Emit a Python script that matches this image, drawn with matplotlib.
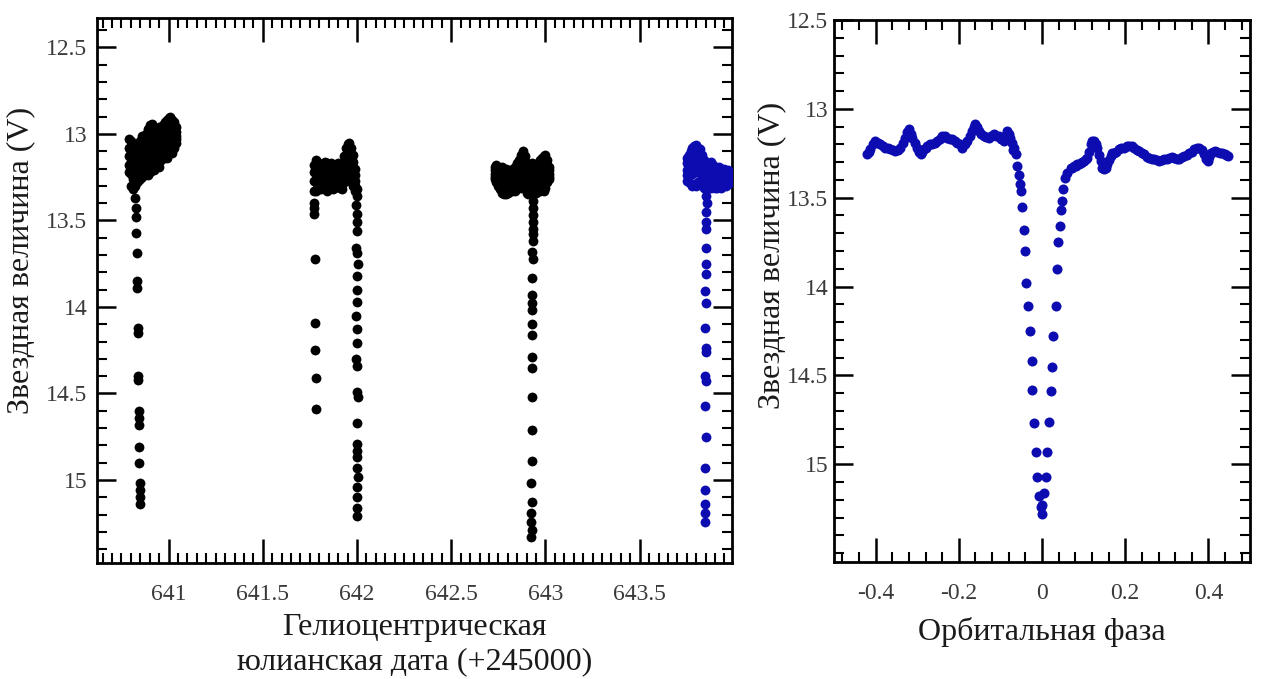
import matplotlib
matplotlib.use("Agg")
import matplotlib.pyplot as plt
from matplotlib.ticker import MultipleLocator, FuncFormatter

# ---------------- data: left panel (HJD - 2450000 offset as shown, V mag) ----------------
g1_band_x = [640.79, 640.80, 640.81, 640.82, 640.83, 640.84, 640.85, 640.86, 640.87, 640.88, 640.89, 640.90, 640.91,
             640.92, 640.93, 640.94, 640.95, 640.96, 640.97, 640.98, 640.99, 641.00, 641.01, 641.02, 641.03, 641.04]
g1_band_top = [13.03, 13.04, 13.08, 13.10, 13.09, 13.06, 13.04, 13.01, 13.03, 13.00, 12.97, 12.95, 12.94,
               12.97, 12.99, 12.98, 12.96, 12.99, 12.95, 12.93, 12.92, 12.91, 12.90, 12.92, 12.93, 12.96]
g1_band_r2 = [13.08, 13.10, 13.14, 13.15, 13.14, 13.11, 13.09, 13.07, 13.08, 13.05, 13.03, 13.01, 13.00,
              13.03, 13.04, 13.03, 13.01, 13.03, 13.00, 12.98, 12.97, 12.96, 12.95, 12.97, 12.97, 12.99]
g1_band_r3 = [13.13, 13.16, 13.20, 13.21, 13.19, 13.17, 13.15, 13.13, 13.14, 13.11, 13.10, 13.08, 13.07,
              13.09, 13.08, 13.07, 13.08, 13.06, 13.04, 13.02, 13.03, 13.00, 12.99, 13.01, 13.00, 13.01]
g1_band_r4 = [13.18, 13.23, 13.26, 13.26, 13.24, 13.22, 13.21, 13.19, 13.19, 13.17, 13.17, 13.15, 13.14,
              13.15, 13.13, 13.12, 13.14, 13.11, 13.09, 13.07, 13.09, 13.05, 13.04, 13.06, 13.04, 13.03]
g1_band_bot = [13.22, 13.30, 13.32, 13.30, 13.28, 13.27, 13.26, 13.25, 13.24, 13.22, 13.24, 13.22, 13.20,
               13.21, 13.18, 13.16, 13.19, 13.15, 13.13, 13.12, 13.14, 13.10, 13.09, 13.11, 13.08, 13.05]
g1_ecl_x = [640.823, 640.825, 640.826, 640.828, 640.830, 640.832, 640.834, 640.836, 640.838, 640.838,
            640.840, 640.842, 640.843, 640.844, 640.844, 640.845, 640.846, 640.846, 640.847, 640.846]
g1_ecl_m = [13.37, 13.43, 13.48, 13.57, 13.69, 13.85, 13.89, 14.12, 14.15, 14.40,
            14.42, 14.60, 14.64, 14.68, 14.81, 14.90, 15.02, 15.06, 15.10, 15.14]

g2_band_x = [641.77, 641.78, 641.79, 641.80, 641.81, 641.82, 641.83, 641.84, 641.85, 641.86, 641.87, 641.88,
             641.89, 641.90, 641.91, 641.92, 641.93, 641.94, 641.95, 641.96, 641.97, 641.98, 641.99]
g2_band_top = [13.18, 13.15, 13.16, 13.17, 13.19, 13.18, 13.16, 13.17, 13.19, 13.17, 13.20, 13.21,
               13.18, 13.17, 13.19, 13.18, 13.13, 13.08, 13.06, 13.05, 13.08, 13.12, 13.20]
g2_band_r2 = [13.22, 13.19, 13.20, 13.21, 13.22, 13.21, 13.20, 13.21, 13.22, 13.21, 13.23, 13.24,
              13.21, 13.21, 13.22, 13.21, 13.17, 13.12, 13.10, 13.09, 13.12, 13.16, 13.24]
g2_band_r3 = [13.27, 13.23, 13.24, 13.25, 13.25, 13.25, 13.23, 13.25, 13.26, 13.24, 13.26, 13.27,
              13.25, 13.24, 13.26, 13.25, 13.21, 13.17, 13.15, 13.14, 13.17, 13.21, 13.27]
g2_band_r4 = [13.33, 13.27, 13.27, 13.28, 13.29, 13.28, 13.27, 13.29, 13.29, 13.27, 13.29, 13.29,
              13.28, 13.27, 13.29, 13.29, 13.25, 13.22, 13.21, 13.19, 13.22, 13.26, 13.30]
g2_band_bot = [13.40, 13.33, 13.31, 13.30, 13.32, 13.31, 13.30, 13.33, 13.31, 13.30, 13.32, 13.31,
               13.30, 13.29, 13.31, 13.32, 13.28, 13.27, 13.26, 13.24, 13.27, 13.30, 13.33]
g2_in_x = [641.772, 641.774, 641.778, 641.778, 641.779, 641.780, 641.780]
g2_in_m = [13.43, 13.46, 13.72, 14.09, 14.25, 14.41, 14.59]
g2_ecl_x = [641.998, 642.000, 641.997, 642.001, 641.999, 642.002, 641.996, 642.000, 642.003, 641.998,
            642.001, 641.999, 641.997, 642.002, 642.000, 641.996, 642.001, 641.998, 642.003, 641.999,
            642.001, 642.002, 641.998, 642.000, 642.003, 642.001, 641.999, 642.002, 642.000]
g2_ecl_m = [13.32, 13.36, 13.41, 13.46, 13.51, 13.56, 13.66, 13.69, 13.75, 13.82,
            13.90, 13.97, 14.05, 14.13, 14.21, 14.30, 14.34, 14.49, 14.52, 14.67,
            14.79, 14.83, 14.87, 14.93, 14.98, 15.04, 15.10, 15.16, 15.21]

g3_band_x = [642.73, 642.74, 642.75, 642.76, 642.77, 642.78, 642.79, 642.80, 642.81, 642.82,
             642.83, 642.84, 642.85, 642.86, 642.87, 642.88, 642.89, 642.90, 642.91, 642.92,
             642.93, 642.94, 642.95, 642.96, 642.97, 642.98, 642.99, 643.00, 643.01, 643.02]
g3_band_top = [13.19, 13.18, 13.19, 13.20, 13.19, 13.21, 13.20, 13.22, 13.21, 13.22,
               13.20, 13.19, 13.17, 13.15, 13.12, 13.10, 13.13, 13.17, 13.20, 13.19,
               13.17, 13.18, 13.19, 13.17, 13.15, 13.14, 13.13, 13.12, 13.15, 13.19]
g3_band_r2 = [13.21, 13.21, 13.22, 13.23, 13.23, 13.24, 13.23, 13.25, 13.24, 13.25,
              13.23, 13.22, 13.21, 13.19, 13.16, 13.14, 13.17, 13.21, 13.23, 13.22,
              13.21, 13.21, 13.22, 13.21, 13.19, 13.18, 13.17, 13.16, 13.18, 13.21]
g3_band_r3 = [13.23, 13.24, 13.25, 13.26, 13.27, 13.28, 13.27, 13.28, 13.27, 13.28,
              13.26, 13.26, 13.24, 13.22, 13.21, 13.20, 13.22, 13.25, 13.28, 13.27,
              13.26, 13.25, 13.26, 13.25, 13.24, 13.23, 13.23, 13.22, 13.22, 13.23]
g3_band_r4 = [13.25, 13.26, 13.28, 13.29, 13.31, 13.32, 13.31, 13.31, 13.30, 13.31,
              13.29, 13.30, 13.28, 13.26, 13.26, 13.25, 13.27, 13.30, 13.32, 13.31,
              13.30, 13.29, 13.30, 13.29, 13.29, 13.28, 13.28, 13.27, 13.25, 13.25]
g3_band_bot = [13.26, 13.28, 13.30, 13.32, 13.34, 13.35, 13.35, 13.34, 13.33, 13.33,
               13.32, 13.33, 13.31, 13.30, 13.31, 13.30, 13.31, 13.34, 13.35, 13.34,
               13.34, 13.33, 13.34, 13.33, 13.33, 13.32, 13.33, 13.31, 13.28, 13.26]
g3_ecl_x = [642.935, 642.934, 642.935, 642.933, 642.934, 642.932, 642.933, 642.931, 642.932, 642.930,
            642.929, 642.931, 642.930, 642.928, 642.929, 642.927, 642.928, 642.926, 642.927, 642.926,
            642.925, 642.926, 642.924, 642.925, 642.926, 642.925]
g3_ecl_m = [13.39, 13.43, 13.47, 13.51, 13.55, 13.58, 13.62, 13.68, 13.72, 13.83,
            13.93, 13.98, 14.02, 14.10, 14.16, 14.29, 14.35, 14.52, 14.71, 14.89,
            15.02, 15.13, 15.19, 15.24, 15.29, 15.33]

g4_band_x = [643.75, 643.76, 643.77, 643.78, 643.79, 643.80, 643.81, 643.82, 643.83, 643.84, 643.85, 643.86,
             643.87, 643.88, 643.89, 643.90, 643.91, 643.92, 643.93, 643.94, 643.95, 643.96, 643.97, 643.98]
g4_band_top = [13.14, 13.12, 13.10, 13.08, 13.07, 13.065, 13.08, 13.09, 13.12, 13.15, 13.17, 13.18,
               13.17, 13.16, 13.18, 13.19, 13.20, 13.19, 13.20, 13.21, 13.20, 13.22, 13.21, 13.22]
g4_band_r2 = [13.17, 13.15, 13.13, 13.12, 13.11, 13.10, 13.11, 13.13, 13.16, 13.18, 13.20, 13.21,
              13.21, 13.20, 13.21, 13.22, 13.23, 13.22, 13.23, 13.23, 13.22, 13.24, 13.23, 13.24]
g4_band_r3 = [13.21, 13.20, 13.18, 13.17, 13.16, 13.15, 13.16, 13.18, 13.20, 13.22, 13.24, 13.25,
              13.24, 13.23, 13.24, 13.25, 13.26, 13.25, 13.26, 13.25, 13.24, 13.26, 13.25, 13.25]
g4_band_r4 = [13.24, 13.24, 13.23, 13.23, 13.22, 13.22, 13.22, 13.22, 13.24, 13.26, 13.27, 13.28,
              13.27, 13.27, 13.27, 13.28, 13.28, 13.28, 13.28, 13.28, 13.27, 13.28, 13.27, 13.27]
g4_band_bot = [13.27, 13.28, 13.29, 13.30, 13.29, 13.30, 13.28, 13.27, 13.29, 13.31, 13.30, 13.31,
               13.30, 13.31, 13.30, 13.31, 13.31, 13.30, 13.31, 13.30, 13.29, 13.30, 13.29, 13.28]
g4_ecl_x = [643.855, 643.853, 643.856, 643.852, 643.854, 643.851, 643.853, 643.850, 643.852, 643.848,
            643.851, 643.849, 643.850, 643.852, 643.848, 643.851, 643.849, 643.850, 643.848, 643.849,
            643.847, 643.849, 643.848]
g4_ecl_m = [13.32, 13.36, 13.40, 13.45, 13.51, 13.55, 13.66, 13.75, 13.81, 13.91,
            13.98, 14.12, 14.24, 14.26, 14.40, 14.43, 14.57, 14.75, 14.93, 15.06,
            15.14, 15.19, 15.24]

# ---------------- data: right panel (orbital phase, V mag) ----------------
ph_pre_x = [-0.421, -0.417, -0.413, -0.407, -0.401, -0.395, -0.389, -0.383, -0.377, -0.371, -0.365, -0.359,
            -0.353, -0.347, -0.341, -0.335, -0.329, -0.324, -0.320, -0.316, -0.312, -0.306, -0.300, -0.296,
            -0.292, -0.288, -0.284, -0.280, -0.276, -0.270, -0.264, -0.258, -0.252, -0.246, -0.240, -0.234,
            -0.228, -0.222, -0.216, -0.210, -0.204, -0.198, -0.192, -0.186, -0.180, -0.174, -0.168, -0.164,
            -0.160, -0.156, -0.152, -0.146, -0.140, -0.134, -0.128, -0.122, -0.116, -0.110, -0.104, -0.098,
            -0.092, -0.088, -0.084, -0.080, -0.076, -0.072, -0.070, -0.067]
ph_pre_m = [13.255, 13.24, 13.227, 13.20, 13.180, 13.19, 13.199, 13.21, 13.218, 13.22, 13.227, 13.23,
            13.237, 13.23, 13.218, 13.19, 13.162, 13.13, 13.114, 13.14, 13.162, 13.19, 13.218, 13.24,
            13.255, 13.24, 13.227, 13.22, 13.208, 13.20, 13.199, 13.19, 13.180, 13.17, 13.152, 13.15,
            13.162, 13.17, 13.171, 13.18, 13.190, 13.20, 13.218, 13.20, 13.180, 13.15, 13.124, 13.10,
            13.086, 13.10, 13.124, 13.14, 13.152, 13.16, 13.162, 13.15, 13.143, 13.15, 13.152, 13.17,
            13.180, 13.15, 13.124, 13.14, 13.162, 13.19, 13.23, 13.218]
ph_in_x = [-0.0634, -0.0595, -0.0554, -0.0530, -0.0513, -0.0489, -0.0434, -0.0417, -0.0378, -0.0337,
           -0.0296, -0.0248, -0.0234, -0.0193, -0.0152, -0.0128, -0.0072, -0.0031, -0.0007]
ph_in_m = [13.254, 13.32, 13.37, 13.42, 13.46, 13.55, 13.68, 13.80, 13.98, 14.11,
           14.25, 14.42, 14.58, 14.77, 14.93, 15.07, 15.18, 15.24, 15.28]
ph_eg_x = [0.0007, 0.0048, 0.0089, 0.0128, 0.0169, 0.0210, 0.0248, 0.0265, 0.0330, 0.0369,
           0.0393, 0.0427, 0.0451, 0.0475, 0.0506, 0.0554, 0.0610, 0.0690]
ph_eg_m = [15.23, 15.16, 15.07, 14.93, 14.76, 14.59, 14.45, 14.28, 14.11, 13.90,
           13.75, 13.66, 13.57, 13.52, 13.45, 13.39, 13.36, 13.33]
ph_post_x = [0.073, 0.077, 0.081, 0.085, 0.089, 0.093, 0.097, 0.101, 0.105, 0.109, 0.113, 0.117,
             0.121, 0.125, 0.129, 0.133, 0.137, 0.141, 0.145, 0.149, 0.153, 0.157, 0.161, 0.165,
             0.169, 0.173, 0.179, 0.185, 0.191, 0.198, 0.204, 0.210, 0.216, 0.222, 0.228, 0.234,
             0.240, 0.246, 0.252, 0.258, 0.264, 0.270, 0.276, 0.282, 0.288, 0.294, 0.300, 0.306,
             0.312, 0.318, 0.324, 0.330, 0.336, 0.342, 0.348, 0.354, 0.360, 0.366, 0.372, 0.378,
             0.384, 0.390, 0.394, 0.398, 0.402, 0.407, 0.411, 0.415, 0.421, 0.427, 0.433, 0.439,
             0.443, 0.447]
ph_post_m = [13.33, 13.321, 13.32, 13.312, 13.31, 13.303, 13.30, 13.293, 13.28, 13.274, 13.24, 13.199,
             13.18, 13.18, 13.20, 13.218, 13.26, 13.293, 13.33, 13.34, 13.33, 13.312, 13.29, 13.265,
             13.25, 13.246, 13.24, 13.227, 13.22, 13.218, 13.21, 13.208, 13.21, 13.218, 13.23, 13.237,
             13.25, 13.255, 13.27, 13.274, 13.28, 13.283, 13.29, 13.293, 13.29, 13.283, 13.28, 13.274,
             13.27, 13.274, 13.28, 13.283, 13.27, 13.265, 13.26, 13.246, 13.24, 13.227, 13.22, 13.218,
             13.23, 13.255, 13.28, 13.293, 13.27, 13.246, 13.24, 13.237, 13.24, 13.246, 13.25, 13.255,
             13.26, 13.265]

left_yticks = [12.5, 13, 13.5, 14, 14.5, 15]
left_xticks = [641, 641.5, 642, 642.5, 643, 643.5]
right_yticks = [12.5, 13, 13.5, 14, 14.5, 15]
right_xticks = [-0.4, -0.2, 0, 0.2, 0.4]

ylabel_text = "Звездная величина (V)"
left_xlabel = "Гелиоцентрическая\nюлианская дата (+245000)"
right_xlabel = "Орбитальная фаза"

# ---------------- styling ----------------
plt.rcParams['font.family'] = ['Liberation Serif', 'DejaVu Serif']
BLUE = '#0c0cb0'
TICK_C = '#3a3a3a'
LAB_C = '#1a1a1a'

fig = plt.figure(figsize=(12.61, 6.79), dpi=100)
axL = fig.add_axes([0.0769, 0.1708, 0.5036, 0.8027])
axR = fig.add_axes([0.6614, 0.1723, 0.3299, 0.7982])

s_left = 50
s_right = 52

for bx, rows in [(g1_band_x, [g1_band_top, g1_band_r2, g1_band_r3, g1_band_r4, g1_band_bot]),
                 (g2_band_x, [g2_band_top, g2_band_r2, g2_band_r3, g2_band_r4, g2_band_bot]),
                 (g3_band_x, [g3_band_top, g3_band_r2, g3_band_r3, g3_band_r4, g3_band_bot])]:
    for r in rows:
        axL.scatter(bx, r, s=s_left, c='black', linewidths=0, zorder=3)
for ex, em in [(g1_ecl_x, g1_ecl_m), (g2_in_x, g2_in_m), (g2_ecl_x, g2_ecl_m), (g3_ecl_x, g3_ecl_m)]:
    axL.scatter(ex, em, s=s_left, c='black', linewidths=0, zorder=3)
for r in [g4_band_top, g4_band_r2, g4_band_r3, g4_band_r4, g4_band_bot]:
    axL.scatter(g4_band_x, r, s=s_left, c=BLUE, linewidths=0, zorder=3)
axL.scatter(g4_ecl_x, g4_ecl_m, s=s_left, c=BLUE, linewidths=0, zorder=3)

for px, pm in [(ph_pre_x, ph_pre_m), (ph_in_x, ph_in_m), (ph_eg_x, ph_eg_m), (ph_post_x, ph_post_m)]:
    axR.scatter(px, pm, s=s_right, c=BLUE, linewidths=0, zorder=3)

fmt = FuncFormatter(lambda v, p: '%g' % v)

# left axes
axL.set_xlim(640.62, 643.99)
axL.set_ylim(15.48, 12.33)
axL.set_xticks(left_xticks)
axL.set_yticks(left_yticks)
axL.xaxis.set_major_formatter(fmt)
axL.yaxis.set_major_formatter(fmt)
axL.xaxis.set_minor_locator(MultipleLocator(0.05))
axL.yaxis.set_minor_locator(MultipleLocator(0.1))

# right axes
axR.set_xlim(-0.5, 0.5)
axR.set_ylim(15.55, 12.5)
axR.set_xticks(right_xticks)
axR.set_yticks(right_yticks)
axR.xaxis.set_major_formatter(fmt)
axR.yaxis.set_major_formatter(fmt)
axR.xaxis.set_minor_locator(MultipleLocator(0.04))
axR.yaxis.set_minor_locator(MultipleLocator(0.1))

for ax, ypad in [(axL, 7), (axR, 4)]:
    for sp in ax.spines.values():
        sp.set_linewidth(2.0)
        sp.set_color('black')
    ax.tick_params(which='both', direction='in', top=True, right=True, colors='black',
                   labelcolor=TICK_C, labelsize=17)
    ax.tick_params(axis='x', which='major', length=17, width=1.8, pad=15)
    ax.tick_params(axis='x', which='minor', length=7.5, width=1.5)
    ax.tick_params(axis='y', which='major', length=14, width=1.8, pad=ypad)
    ax.tick_params(axis='y', which='minor', length=7.5, width=1.5)

axL.set_ylabel(ylabel_text, fontsize=23, color=LAB_C)
axL.yaxis.set_label_coords(-0.097, 0.556)
axL.set_xlabel(left_xlabel, fontsize=23, color=LAB_C, linespacing=1.22)
axL.xaxis.set_label_coords(0.5, -0.092)

axR.set_ylabel(ylabel_text, fontsize=23, color=LAB_C)
axR.yaxis.set_label_coords(-0.116, 0.566)
axR.set_xlabel(right_xlabel, fontsize=23, color=LAB_C)
axR.xaxis.set_label_coords(0.5, -0.102)

fig.savefig('out.png', dpi=100)
